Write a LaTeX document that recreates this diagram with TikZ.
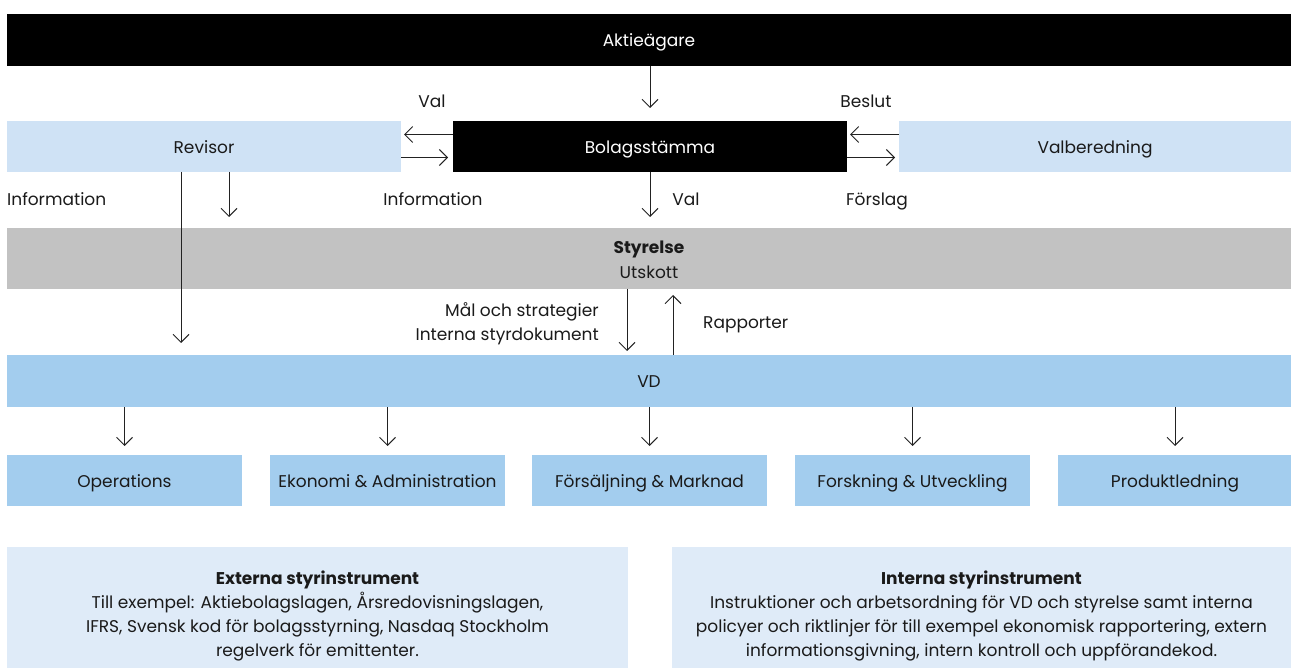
\documentclass[tikz,border=0pt]{standalone}
\usepackage{fontspec}
\setmainfont{Poppins}
\usetikzlibrary{arrows.meta,calc}
\definecolor{lblue}{HTML}{CFE2F5}
\definecolor{mblue}{HTML}{A3CDEE}
\definecolor{pblue}{HTML}{DFEBF8}
\definecolor{gbox}{HTML}{C2C2C2}
\definecolor{txt}{HTML}{1A1A1A}
\definecolor{arrc}{HTML}{222222}
\newcommand{\fs}{\fontsize{17}{24.2}\selectfont}
\tikzset{
  box/.style={inner sep=0pt, outer sep=0pt, minimum height=52pt, text=txt, font=\fs, align=center, text height=17pt, text depth=3pt},
  plain/.style={inner sep=0pt, outer sep=0pt, minimum height=52pt},
  dark/.style={box, fill=black, text=white},
  arr/.style={draw=arrc, line width=1pt, -{Straight Barb[length=8pt,width=16pt,line width=1pt]}},
  lbl/.style={text=txt, font=\fs, inner sep=0pt, text height=16pt, text depth=3pt},
  mlbl/.style={text=txt, font=\fs, inner sep=0pt},
}
\begin{document}
\begin{tikzpicture}[x=1pt,y=-1pt]
\useasboundingbox (0,0) rectangle (1291,668);
% boxes
\node[dark, minimum width=1284pt] (akt) at (649,40) {Aktieägare};
\node[dark, minimum width=394pt, minimum height=51pt] (bol) at (650,146.5) {Bolagsstämma};
\node[box, fill=lblue, minimum width=394pt, minimum height=51pt] (rev) at (204,146.5) {Revisor};
\node[box, fill=lblue, minimum width=392pt, minimum height=51pt] (val) at (1095,146.5) {Valberedning};
\node[plain, fill=gbox, minimum width=1284pt, minimum height=61pt] (sty) at (649,258.5) {};
\node[mlbl, align=center, font=\fontsize{17}{25}\selectfont] (styt) at (649,260) {\textbf{Styrelse}\\Utskott};
\node[box, fill=mblue, minimum width=1284pt] (vd) at (649,381) {VD};
\node[box, fill=mblue, minimum width=235pt, minimum height=51pt] (op) at (124.5,480.5) {Operations};
\node[box, fill=mblue, minimum width=235pt, minimum height=51pt] (ek) at (387.5,480.5) {Ekonomi \& Administration};
\node[box, fill=mblue, minimum width=235pt, minimum height=51pt] (fs) at (649.5,480.5) {Försäljning \& Marknad};
\node[box, fill=mblue, minimum width=235pt, minimum height=51pt] (fo) at (912.5,480.5) {Forskning \& Utveckling};
\node[box, fill=mblue, minimum width=234pt, minimum height=51pt] (pr) at (1175,480.5) {Produktledning};
\node[plain, fill=pblue, minimum width=621pt, minimum height=121pt] (ext) at (317.5,607.5) {};
\node[plain, fill=pblue, minimum width=619pt, minimum height=121pt] (int) at (981.5,607.5) {};
\node[mlbl, align=center] (extt) at (317.5,616) {\textbf{Externa styrinstrument}\\Till exempel: Aktiebolagslagen, Årsredovisningslagen,\\IFRS, Svensk kod för bolagsstyrning, Nasdaq Stockholm\\regelverk för emittenter.};
\node[mlbl, align=center] (intt) at (981.5,616) {\textbf{Interna styrinstrument}\\Instruktioner och arbetsordning för VD och styrelse samt interna\\policyer och riktlinjer för till exempel ekonomisk rapportering, extern\\informationsgivning, intern kontroll och uppförandekod.};
% labels
\node[lbl] (lval1) at (432,101) {Val};
\node[lbl] (lbes) at (866,101) {Beslut};
\node[lbl, anchor=west] (linf1) at (7,199) {Information};
\node[lbl] (linf2) at (433,199) {Information};
\node[lbl] (lval2) at (686,199) {Val};
\node[lbl] (lfor) at (877,199) {Förslag};
\node[mlbl, anchor=east, align=right] (lmal) at (599,324) {Mål och strategier\\Interna styrdokument};
\node[lbl, anchor=west] (lrap) at (703,322) {Rapporter};
% arrows
\draw[arr, shorten >=13pt] (akt.south -| bol.north) -- (bol.north);
\draw[arr, shorten >=3pt] ([yshift=12pt]bol.west) -- ([yshift=12pt]rev.east);
\draw[arr, shorten >=5pt] ([yshift=-11pt]rev.east) -- ([yshift=-11pt]bol.west);
\draw[arr, shorten >=3pt] ([yshift=12pt]val.west) -- ([yshift=12pt]bol.east);
\draw[arr, shorten >=4pt] ([yshift=-11pt]bol.east) -- ([yshift=-11pt]val.west);
\draw[arr, shorten >=11pt] (bol.south) -- (bol.south |- sty.north);
\draw[arr, shorten >=11pt] ([xshift=25pt]rev.south) -- ([xshift=25pt]rev.south |- sty.north);
\draw[arr, shorten >=12pt] ([xshift=-23pt]rev.south) -- ([xshift=-23pt]rev.south |- vd.north);
\draw[arr, shorten >=4pt] ([xshift=-22pt]sty.south) -- ([xshift=-22pt]sty.south |- vd.north);
\draw[arr, shorten >=6pt] ([xshift=24pt]vd.north) -- ([xshift=24pt]vd.north |- sty.south);
\foreach \n in {op,ek,fs,fo,pr} \draw[arr, shorten >=9pt] (vd.south -| \n.north) -- (\n.north);
\end{tikzpicture}
\end{document}
